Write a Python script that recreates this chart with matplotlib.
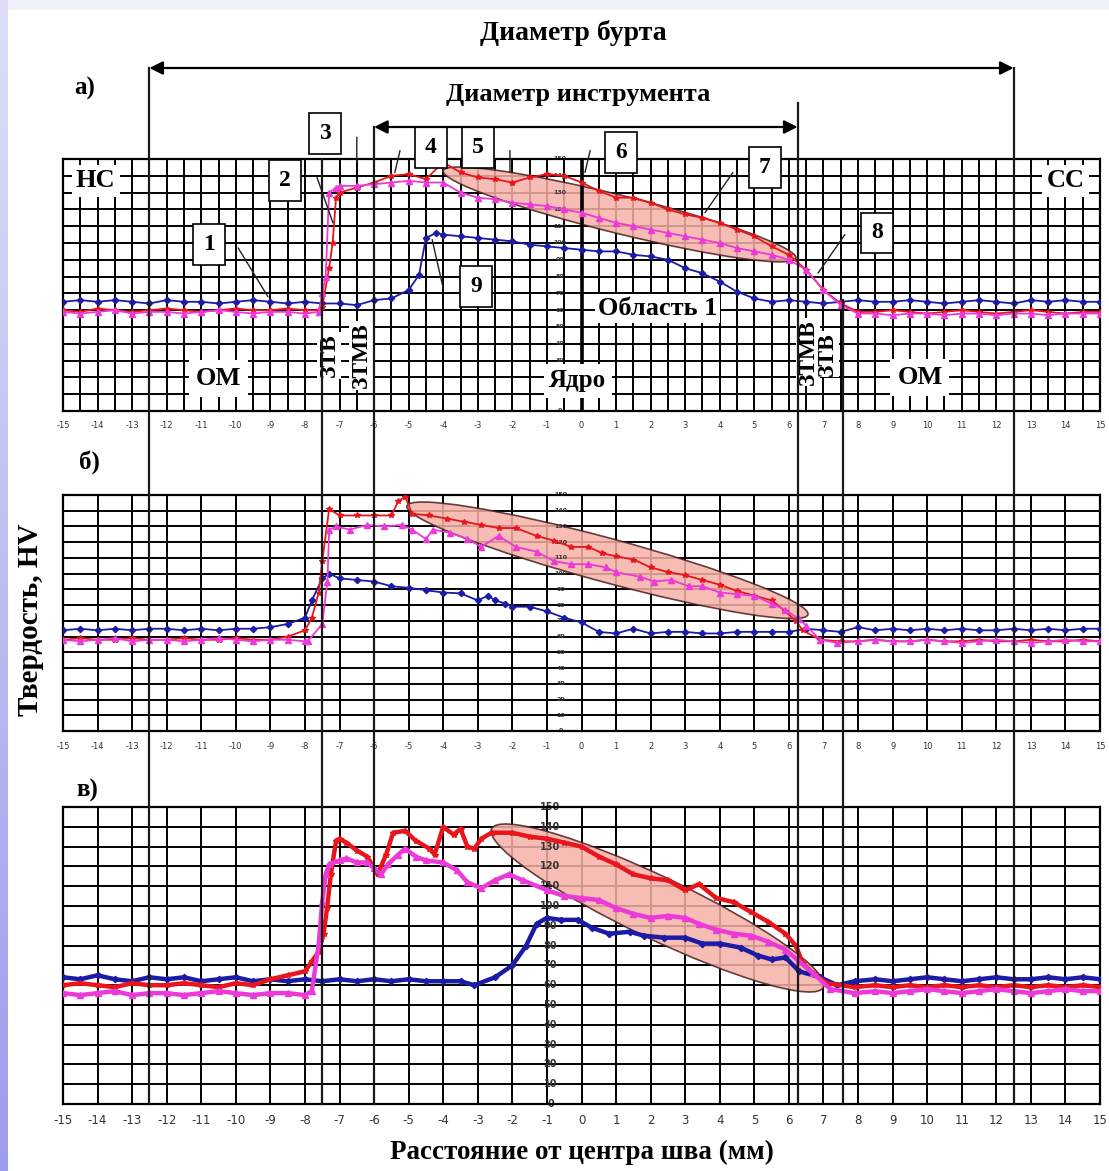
import matplotlib.pyplot as plt
import numpy as np
from matplotlib.patches import Ellipse, Rectangle
from matplotlib.transforms import IdentityTransform
from matplotlib.colors import LinearSegmentedColormap

plt.rcParams['axes.unicode_minus'] = False

# ---- данные (твердость HV по расстоянию от центра шва, мм) ----
# панель а)
A_BLUE_X = [-15, -14.5, -14, -13.5, -13, -12.5, -12, -11.5, -11, -10.5, -10, -9.5, -9, -8.5, -8, -7.5,
            -7, -6.5, -6, -5.5, -5, -4.7, -4.5, -4.2, -4, -3.5, -3, -2.5, -2, -1.5, -1, -0.5, 0, 0.5,
            1, 1.5, 2, 2.5, 3, 3.5, 4, 4.5, 5, 5.5, 6, 6.5, 7, 7.5, 8, 8.5, 9, 9.5, 10, 10.5, 11,
            11.5, 12, 12.5, 13, 13.5, 14, 14.5, 15]
A_BLUE_Y = [65, 66, 65, 66, 65, 64, 66, 65, 65, 64, 65, 66, 65, 64, 65, 64,
            64, 63, 66, 67, 72, 81, 103, 106, 105, 104, 103, 102, 101, 99, 98, 97, 96, 95,
            95, 93, 92, 90, 85, 82, 77, 71, 67, 65, 66, 65, 64, 65, 66, 65, 65, 66, 65, 64, 65,
            66, 65, 64, 66, 65, 66, 65, 65]
A_RED_X = [-15, -14.5, -14, -13.5, -13, -12.5, -12, -11.5, -11, -10.5, -10, -9.5, -9, -8.5, -8, -7.6,
           -7.5, -7.3, -7.2, -7.1, -7, -6.5, -6, -5.5, -5, -4.5, -4, -3.5, -3, -2.5, -2, -1.5, -1,
           -0.5, 0, 0.5, 1, 1.5, 2, 2.5, 3, 3.5, 4, 4.5, 5, 5.5, 6, 6.5, 7, 7.5, 8, 8.5, 9, 9.5,
           10, 10.5, 11, 11.5, 12, 12.5, 13, 13.5, 14, 14.5, 15]
A_RED_Y = [60, 59, 61, 60, 59, 60, 61, 60, 59, 60, 61, 60, 60, 61, 60, 60,
           62, 85, 100, 127, 130, 133, 136, 140, 141, 138, 148, 142, 139, 138, 136, 139, 141,
           140, 136, 131, 127, 127, 124, 120, 117, 115, 112, 108, 104, 98, 93, 84, 72, 64, 59, 59, 60, 59,
           58, 59, 60, 59, 58, 59, 60, 59, 58, 59, 59]
A_MAG_X = [-15, -14.5, -14, -13.5, -13, -12.5, -12, -11.5, -11, -10.5, -10, -9.5, -9, -8.5, -8, -7.6,
           -7.5, -7.4, -7.3, -7.1, -7, -6.5, -6, -5.5, -5, -4.5, -4, -3.5, -3, -2.5, -2, -1.5, -1,
           -0.5, 0, 0.5, 1, 1.5, 2, 2.5, 3, 3.5, 4, 4.5, 5, 5.5, 6, 6.5, 7, 7.5, 8, 8.5, 9, 9.5,
           10, 10.5, 11, 11.5, 12, 12.5, 13, 13.5, 14, 14.5, 15]
A_MAG_Y = [59, 58, 59, 60, 58, 59, 59, 58, 59, 60, 59, 58, 59, 59, 58, 59,
           70, 80, 130, 133, 134, 134, 135, 136, 137, 136, 136, 130, 127, 126, 124, 123, 122,
           120, 118, 115, 112, 110, 108, 106, 104, 102, 100, 97, 95, 93, 90, 84, 72, 63, 58, 58, 57, 58,
           58, 57, 58, 58, 57, 58, 58, 57, 58, 58, 58]

# панель б)
B_BLUE_X = [-15, -14.5, -14, -13.5, -13, -12.5, -12, -11.5, -11, -10.5, -10, -9.5, -9, -8.5, -8, -7.8,
            -7.5, -7.3, -7, -6.5, -6, -5.5, -5, -4.5, -4, -3.5, -3, -2.7, -2.5, -2.2, -2, -1.5, -1,
            -0.5, 0, 0.5, 1, 1.5, 2, 2.5, 3, 3.5, 4, 4.5, 5, 5.5, 6, 6.5, 7, 7.5, 8, 8.5, 9, 9.5,
            10, 10.5, 11, 11.5, 12, 12.5, 13, 13.5, 14, 14.5, 15]
B_BLUE_Y = [64, 65, 64, 65, 64, 65, 65, 64, 65, 64, 65, 65, 66, 68, 72, 83,
            97, 100, 97, 96, 95, 92, 91, 89.5, 88, 87.5, 83, 86, 83, 81, 79, 79, 76,
            72, 69, 63, 62, 65, 62, 63, 63, 62, 62, 63, 63, 63, 63, 65, 64, 63, 66, 64, 65, 64,
            65, 64, 65, 64, 64, 65, 64, 65, 64, 65, 65]
B_RED_X = [-15, -14.5, -14, -13.5, -13, -12.5, -12, -11.5, -11, -10.5, -10, -9.5, -9, -8.5, -8, -7.8,
           -7.6, -7.5, -7.3, -7, -6.5, -6, -5.5, -5.3, -5.1, -4.9, -4.4, -3.9, -3.4, -2.9, -2.4, -1.9,
           -1.3, -0.8, -0.3, 0.2, 0.6, 1, 1.5, 2, 2.5, 3, 3.5, 4, 4.5, 5, 5.5, 5.9, 6.2, 6.4, 6.9,
           7.5, 8, 8.5, 9, 9.5, 10, 10.5, 11, 11.5, 12, 12.5, 13, 13.5, 14, 14.5, 15]
B_RED_Y = [58, 59, 58, 58, 59, 58, 58, 59, 58, 58, 59, 58, 58, 60, 64, 72,
           88, 108, 141, 137, 137, 137, 137, 146, 149, 138, 137, 135, 133, 131, 129, 129,
           124, 121, 117, 117, 113, 111, 109, 104, 101, 99, 96, 93, 89, 86, 83, 76, 70, 64, 58,
           57, 57, 58, 57, 57, 58, 57, 57, 58, 57, 57, 58, 57, 57, 58, 57]
B_MAG_X = [-15, -14.5, -14, -13.5, -13, -12.5, -12, -11.5, -11, -10.5, -10, -9.5, -9, -8.5, -8, -7.9,
           -7.5, -7.35, -7.3, -7.1, -6.7, -6.2, -5.7, -5.2, -4.9, -4.5, -4.3, -3.8, -3.3, -2.9, -2.4,
           -1.9, -1.3, -0.8, -0.3, 0.2, 0.7, 1, 1.7, 2.1, 2.6, 3.1, 3.5, 4, 4.5, 5, 5.5, 5.9, 6.3,
           6.5, 6.9, 7.4, 8, 8.5, 9, 9.5, 10, 10.5, 11, 11.5, 12, 12.5, 13, 13.5, 14, 14.5, 15]
B_MAG_Y = [58, 57, 58, 59, 57, 58, 58, 57, 58, 59, 58, 57, 58, 58, 57, 57.5,
           68, 95, 128, 130, 128, 131, 130, 131, 128, 122, 128, 126, 122, 117, 124,
           117, 114, 108, 106, 106, 104, 101, 98, 95, 96, 92, 92, 88, 87, 86, 81, 77, 71,
           67, 58, 56, 57, 58, 57, 57, 58, 57, 56, 57, 58, 57, 56, 57, 58, 57, 57]

# панель в)
C_BLUE_X = [-15, -14.5, -14, -13.5, -13, -12.5, -12, -11.5, -11, -10.5, -10, -9.5, -9, -8.5, -8, -7.5,
            -7, -6.5, -6, -5.5, -5, -4.5, -4, -3.5, -3.1, -2.5, -2, -1.6, -1.3, -1, -0.6, -0.1, 0.3,
            0.8, 1.4, 1.8, 2.4, 3, 3.5, 4, 4.6, 5.1, 5.5, 5.9, 6.3, 6.9, 7.4, 7.9, 8.5, 9, 9.5, 10,
            10.5, 11, 11.5, 12, 12.5, 13, 13.5, 14, 14.5, 15]
C_BLUE_Y = [64, 63, 65, 63, 62, 64, 63, 64, 62, 63, 64, 62, 63, 62, 63, 62,
            63, 62, 63, 62, 63, 62, 62, 62, 60, 64, 70, 80, 91, 94, 93, 93, 89,
            86, 87, 85, 84, 84, 81, 81, 79, 75, 73, 74, 67, 64, 60, 62, 63, 62, 63, 64,
            63, 62, 63, 64, 63, 63, 64, 63, 64, 63]
C_RED_X = [-15, -14.5, -14, -13.5, -13, -12.5, -12, -11.5, -11, -10.5, -10, -9.5, -9, -8.5, -8, -7.8,
           -7.6, -7.46, -7.36, -7.25, -7.1, -7, -6.8, -6.5, -6.2, -5.9, -5.65, -5.45, -5.1, -4.8,
           -4.4, -4.25, -4, -3.7, -3.5, -3.3, -3.1, -2.9, -2.6, -2, -1.5, -1, -0.5, 0, 0.5, 1,
           1.5, 2, 2.5, 3, 3.4, 3.9, 4.4, 4.9, 5.4, 5.9, 6.2, 6.4, 6.7, 7.1, 7.9, 8.5, 9, 9.5,
           10, 10.5, 11, 11.5, 12, 12.5, 13, 13.5, 14, 14.5, 15]
C_RED_Y = [60, 61, 60, 59, 61, 60, 60, 61, 60, 59, 61, 60, 63, 65, 67, 72,
           77, 86, 99, 116, 133, 134, 132, 128, 125, 116, 126, 137, 138, 133,
           129, 126, 140, 136, 139, 130, 129, 134, 137, 137, 135, 134, 132, 130, 125, 121,
           116, 114, 113, 108, 111, 104, 102, 97, 92, 86, 80, 71, 66, 61, 59, 60, 59, 60,
           59, 60, 59, 60, 59, 60, 59, 60, 59, 60, 59]
C_MAG_X = [-15, -14.5, -14, -13.5, -13, -12.5, -12, -11.5, -11, -10.5, -10, -9.5, -9, -8.5, -8, -7.8,
           -7.6, -7.5, -7.4, -7.3, -7, -6.8, -6.5, -6.2, -6, -5.8, -5.6, -5.3, -5.1, -4.8, -4.5,
           -4, -3.6, -3.3, -2.9, -2.5, -2.1, -1.7, -1, -0.5, 0, 0.5, 1, 1.5, 2, 2.5, 3, 3.4, 3.9,
           4.4, 4.9, 5.4, 5.9, 6.3, 6.7, 7.2, 7.9, 8.5, 9, 9.5, 10, 10.5, 11, 11.5, 12, 12.5, 13,
           13.5, 14, 14.5, 15]
C_MAG_Y = [56, 55, 56, 57, 55, 56, 56, 55, 56, 57, 56, 55, 56, 56, 55, 57,
           81, 102, 116, 121, 123, 124, 122, 122, 119, 116, 121, 126, 129, 125, 123,
           122, 118, 112, 109, 113, 116, 113, 108, 105, 104, 103, 99, 96, 94, 95, 94, 91, 88,
           86, 85, 82, 78, 72, 66, 58, 56, 57, 56, 57, 58, 57, 56, 57, 58, 57, 56,
           57, 58, 57, 57]

# выделенная область: (левый край x, y), (правый край x, y), полутолщина в px
ELL_A = ((-4.0, 143), (6.2, 91), 19)
ELL_B = ((-5.05, 143), (6.55, 74), 22)
ELL_C = ((-2.6, 139), (7.0, 59), 31)

# номера-выноски на панели а): текст, центр рамки, начало и конец линии
BOXES = [('1', -10.77, 99, (-9.93, 97), (-9.07, 68)),
         ('2', -8.58, 137, (-7.65, 139), (-7.19, 112)),
         ('3', -7.42, 165, (-6.5, 163), (-6.5, 148)),
         ('4', -4.36, 157, (-5.25, 155), (-5.4, 142)),
         ('5', -3.0, 157, (-2.07, 155), (-2.07, 142)),
         ('6', 1.14, 154, (0.25, 155), (0.1, 142)),
         ('7', 5.3, 145, (4.38, 142), (3.57, 118)),
         ('8', 8.55, 106, (7.62, 105), (6.84, 82)),
         ('9', -3.05, 74, (-4.0, 73), (-4.32, 102))]

# подписи y внутри панели а) (10 и 20 закрыты надписью «Ядро»)
A_YLABELS = [0, 30, 40, 50, 60, 70, 80, 90, 100, 110, 120, 130, 140, 150]
ALL_YLABELS = list(range(0, 151, 10))

RED, MAG, BLUE = '#e8161c', '#ec3ad8', '#1b1ba6'
SERIF = 'Liberation Serif'

W, H = 1109, 1171
fig = plt.figure(figsize=(W / 100, H / 100), dpi=100, facecolor='#eef0fa')

X0, PXU = 581.5, 34.57  # положение x=0 и пикселей на мм


def fx(px):
    return px / W


def fy(py):
    return 1 - py / H


L, R = fx(X0 - 15 * PXU), fx(X0 + 15 * PXU)

# фон
fig.patches.append(Rectangle((fx(8), 0), 1 - fx(8), fy(10), transform=fig.transFigure,
                             fc='white', ec='none', zorder=-10))
strip = fig.add_axes([0, 0, fx(8), 1])
strip.imshow(np.linspace(0, 1, 256).reshape(-1, 1), aspect='auto',
             cmap=LinearSegmentedColormap.from_list('s', ['#dedef8', '#9c9cec']))
strip.set_axis_off()


def make_panel(top, bottom, half_grid, tick_fs, tick_pad):
    ax = fig.add_axes([L, fy(bottom), R - L, (bottom - top) / H])
    ax.set_xlim(-15, 15)
    ax.set_ylim(0, 150)
    ax.set_xticks(range(-15, 16))
    ax.set_yticks(range(0, 151, 10))
    if half_grid:
        ax.set_xticks(np.arange(-14.5, 15, 1.0), minor=True)
    ax.grid(True, which='both', color='black', lw=1.4)
    ax.set_axisbelow(True)
    ax.tick_params(axis='both', which='both', length=0)
    ax.tick_params(axis='x', labelsize=tick_fs, pad=tick_pad, colors='#333333')
    ax.set_yticklabels([])
    for s in ax.spines.values():
        s.set_linewidth(1.6)
    return ax


def y_labels(ax, xpos, fs, values):
    for v in values:
        ax.text(xpos, v, str(v), fontsize=fs, ha='center', va='center', color='#333333',
                fontweight='bold', zorder=2.5)


def highlight(ax, ell):
    (x0, y0), (x1, y1), half = ell
    p0 = ax.transData.transform((x0, y0))
    p1 = ax.transData.transform((x1, y1))
    d = p1 - p0
    e = Ellipse((p0 + p1) / 2, np.hypot(*d), 2 * half, angle=np.degrees(np.arctan2(d[1], d[0])),
                transform=IdentityTransform(), fc='#f6b1a6', ec='#4a2020', lw=1.2,
                alpha=0.85, zorder=1.5)
    ax.add_patch(e)


def curves(ax, data, lw, ms):
    (bx, by), (rx, ry), (mx, my) = data
    ax.plot(bx, by, color=BLUE, lw=lw, marker='D', ms=ms * 0.8, zorder=3)
    ax.plot(rx, ry, color=RED, lw=lw, marker='*', ms=ms, zorder=3.1)
    ax.plot(mx, my, color=MAG, lw=lw, marker='^', ms=ms, zorder=3.2)


ax_a = make_panel(159, 411, True, 6, 7)
ax_b = make_panel(495, 731, False, 6, 8)
ax_c = make_panel(807, 1104, False, 8.5, 7)

y_labels(ax_a, -0.62, 4.5, A_YLABELS)
y_labels(ax_b, -0.6, 4.5, ALL_YLABELS)
y_labels(ax_c, -0.9, 7, ALL_YLABELS)

for ax, ell in ((ax_a, ELL_A), (ax_b, ELL_B), (ax_c, ELL_C)):
    highlight(ax, ell)

curves(ax_a, ((A_BLUE_X, A_BLUE_Y), (A_RED_X, A_RED_Y), (A_MAG_X, A_MAG_Y)), 1.3, 4)
curves(ax_b, ((B_BLUE_X, B_BLUE_Y), (B_RED_X, B_RED_Y), (B_MAG_X, B_MAG_Y)), 1.3, 4)
curves(ax_c, ((C_BLUE_X, C_BLUE_Y), (C_RED_X, C_RED_Y), (C_MAG_X, C_MAG_Y)), 3.2, 4)

# ось в центре панели а)
ax_a.axvline(0, color='black', lw=2.6, zorder=2.6)

# подписи на панели а)
lab = dict(family=SERIF, fontweight='bold', ha='center', va='center', zorder=4)


def wb(pad):
    return dict(fc='white', ec='none', pad=pad)


ax_a.text(-14.05, 137, 'НС', fontsize=19, bbox=wb(3), **lab)
ax_a.text(14.0, 137, 'СС', fontsize=19, bbox=wb(3), **lab)
ax_a.text(-10.49, 19.5, 'ОМ', fontsize=19, bbox=wb(5), **lab)
ax_a.text(9.79, 20, 'ОМ', fontsize=19, bbox=wb(5), **lab)
ax_a.text(-0.1, 18, 'Ядро', fontsize=18, bbox=wb(4), **lab)
ax_a.text(2.21, 61, 'Область 1', fontsize=19, bbox=wb(2), **lab)
ax_a.text(-7.3, 33, 'ЗТВ', fontsize=17, rotation=90, bbox=wb(1), **lab)
ax_a.text(-6.38, 33, 'ЗТМВ', fontsize=17, rotation=90, bbox=wb(1), **lab)
ax_a.text(6.55, 35, 'ЗТМВ', fontsize=17, rotation=90, bbox=wb(1), **lab)
ax_a.text(7.1, 34, 'ЗТВ', fontsize=17, rotation=90, bbox=wb(1), **lab)

for txt, cx, cy, p0, p1 in BOXES:
    ax_a.text(cx, cy, txt, fontsize=17, bbox=dict(boxstyle='square,pad=0.42', fc='white',
                                                  ec='black', lw=1.2), **lab)
    ax_a.annotate('', xy=p1, xytext=p0, annotation_clip=False, zorder=4,
                  arrowprops=dict(arrowstyle='-', lw=1.0, color='#222222', shrinkA=0, shrinkB=0))

# общий слой: x в мм, y в пикселях сверху
ov = fig.add_axes([0, 0, 1, 1], zorder=10)
ov.set_xlim(-X0 / PXU, (W - X0) / PXU)
ov.set_ylim(H, 0)
ov.set_axis_off()
ov.patch.set_alpha(0)

for xv, ytop in [(-12.5, 68), (-7.5, 160), (-6, 127), (6.25, 103), (7.55, 300), (12.5, 68)]:
    ov.plot([xv, xv], [ytop, 1104], color='#1a1a1a', lw=1.6)

arrow = dict(arrowstyle='<|-|>', lw=1.6, color='black', mutation_scale=20, shrinkA=0, shrinkB=0)
ov.annotate('', xy=(12.5, 68), xytext=(-12.5, 68), arrowprops=arrow)
ov.annotate('', xy=(6.25, 127), xytext=(-6, 127), arrowprops=arrow)

tt = dict(family=SERIF, fontweight='bold', ha='center', va='center')
ov.text(-0.25, 33, 'Диаметр бурта', fontsize=20, **tt)
ov.text(-0.1, 95, 'Диаметр инструмента', fontsize=19, **tt)
ov.text(-14.36, 88, 'а)', fontsize=18, **tt)
ov.text(-14.22, 462, 'б)', fontsize=18, **tt)
ov.text(-14.28, 790, 'в)', fontsize=18, **tt)
ov.text((31 - X0) / PXU, 620, 'Твердость, HV', fontsize=21, rotation=90, **tt)
ov.text(0, 1152, 'Расстояние от центра шва (мм)', fontsize=19.5, **tt)

fig.savefig('out.png', dpi=100, facecolor=fig.get_facecolor())
